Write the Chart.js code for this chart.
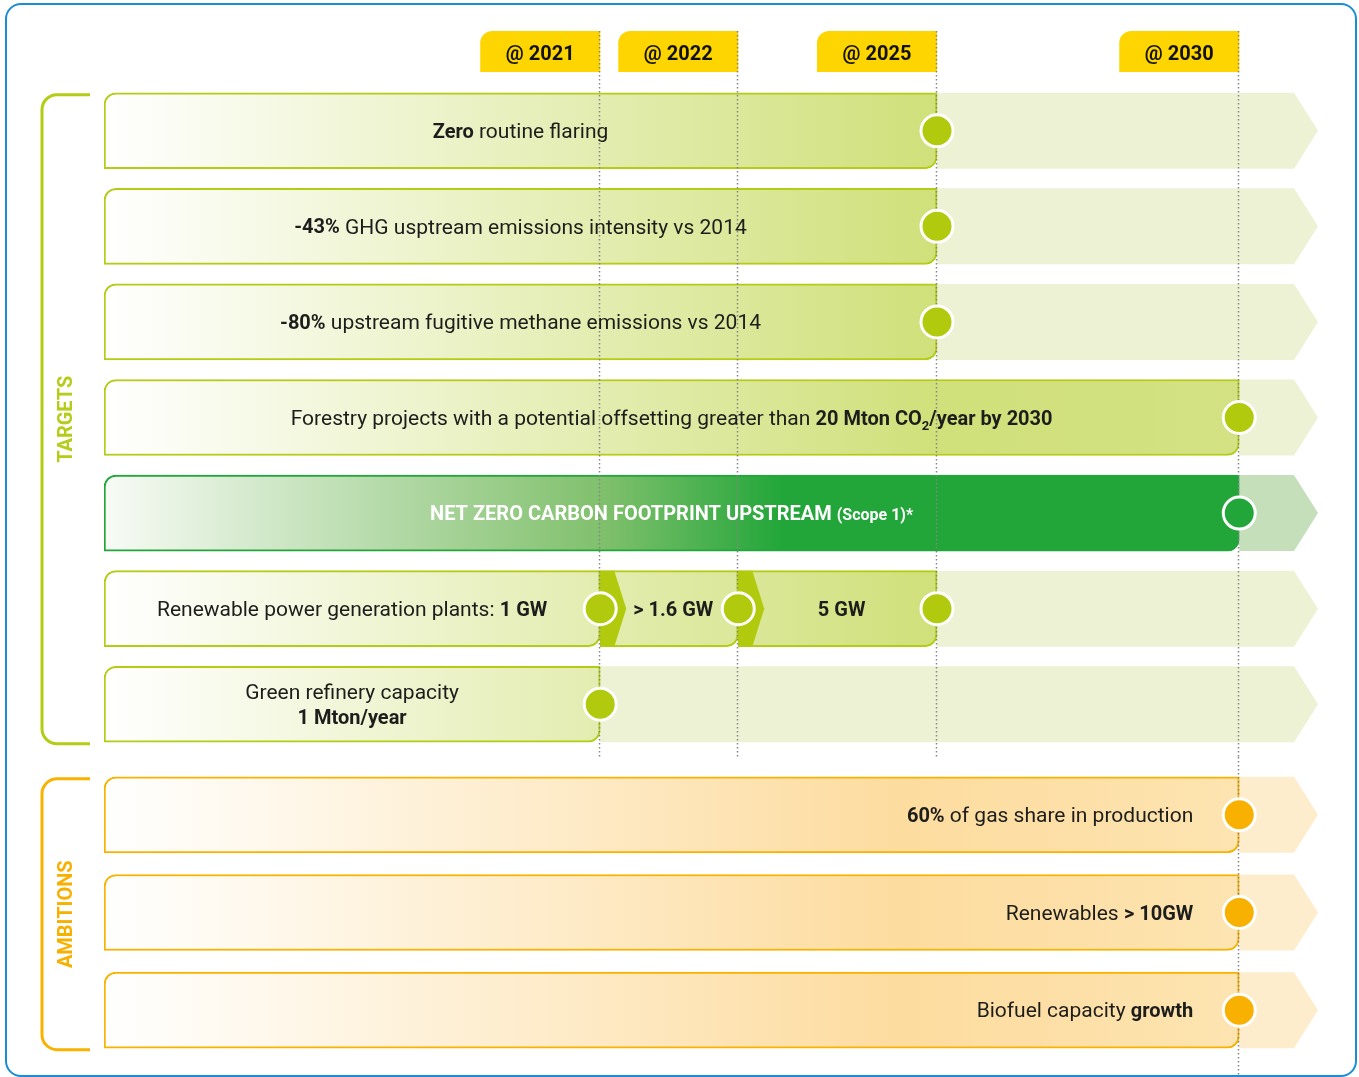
<!DOCTYPE html>
<html>
<head>
<meta charset="utf-8">
<script src="https://cdn.jsdelivr.net/npm/chart.js@4.4.1/dist/chart.umd.min.js"></script>
<style>
  html, body { margin: 0; padding: 0; background: #fff; }
  body { width: 1359px; height: 1077px; position: relative; overflow: hidden; }
  .frame { position: absolute; left: 5px; top: 3px; width: 1352px; height: 1074px; box-sizing: border-box;
           border: 2.5px solid #1b8dd6; border-radius: 16px; }
  canvas { position: absolute; left: 0; }
  #targets { top: 0; }
  #ambitions { top: 757px; }
</style>
</head>
<body>
<div class="frame"></div>
<canvas id="targets" width="1359" height="757"></canvas>
<canvas id="ambitions" width="1359" height="320"></canvas>
<script>
// Milestones on the timeline (position in timeline units)
const milestones = ['@ 2021', '@ 2022', '@ 2025', '@ 2030'];
const milestonePos = [4.17, 5.33, 7.0, 9.54];

// Targets: row text (**bold**, ~subscript~, ^small^) and the milestone each bar reaches
const targetRows = [
  '**Zero** routine flaring',
  '**-43%** GHG usptream emissions intensity vs 2014',
  '**-80%** upstream fugitive methane emissions vs 2014',
  'Forestry projects with a potential offsetting greater than **20 Mton CO~2~/year by 2030**',
  '**NET ZERO CARBON FOOTPRINT UPSTREAM ^(Scope 1)*^**',
  'Renewable power generation plants: **1 GW**',
  'Green refinery capacity\n**1 Mton/year**'
];
const targetEnd = ['@ 2025', '@ 2025', '@ 2025', '@ 2030', '@ 2030', '@ 2021', '@ 2021'];

// Renewable power row keeps going in steps
const stepRow = 'Renewable power generation plants: **1 GW**';
const stepFrom = ['@ 2021', '@ 2022'];
const stepTo = ['@ 2022', '@ 2025'];
const stepText = ['**> 1.6 GW**', '**5 GW**'];

// Ambitions
const ambitionRows = [
  '**60%** of gas share in production',
  'Renewables **> 10GW**',
  'Biofuel capacity **growth**'
];
const ambitionEnd = ['@ 2030', '@ 2030', '@ 2030'];

Chart.defaults.font.family = 'Roboto';
Chart.defaults.color = '#1d1d1b';

const pos = label => milestonePos[milestones.indexOf(label)];

const themes = {
  green:   { stops: [[0, '#ffffff'], [0.7, '#d0e07a'], [1, '#d4e285']], line: '#b3cc14', dot: '#b2ca0e', track: '#edf2d5', text: '#1d1d1b', label: '#b5cc18' },
  netZero: { stops: [[0, '#f8fbf6'], [0.42, '#80c06c'], [0.57, '#22a63a'], [1, '#22a63a']], line: '#22a63a', dot: '#22a63a', track: '#c5dfbb', text: '#ffffff' },
  orange:  { stops: [[0, '#ffffff'], [0.67, '#fddc9f'], [1, '#fde5b3']], line: '#f8b200', dot: '#f8b100', track: '#feedcc', text: '#1d1d1b', label: '#f7b000' }
};
const netZeroRow = targetRows[4];

function fill(chart, theme) {
  const a = chart.chartArea;
  if (!a) return theme.line;
  const g = chart.ctx.createLinearGradient(a.left, 0, a.right, 0);
  theme.stops.forEach(s => g.addColorStop(s[0], s[1]));
  return g;
}

// rich text: **bold**, ~sub~, ^small^
function parseRuns(str) {
  let bold = false, sub = false, small = false;
  const out = [];
  str.split(/(\*\*|~|\^)/).forEach(p => {
    if (p === '**') bold = !bold;
    else if (p === '~') sub = !sub;
    else if (p === '^') small = !small;
    else if (p) out.push({ t: p, bold, sub, small });
  });
  return out;
}
function runFont(r) {
  const size = r.sub ? 13 : r.small ? 16 : r.bold ? 20 : 21;
  return (r.bold ? 'bold ' : '') + size + 'px Roboto';
}
function drawRich(ctx, str, x, y, align, color) {
  const runs = parseRuns(str);
  let w = 0;
  runs.forEach(r => { ctx.font = runFont(r); r.w = ctx.measureText(r.t).width; w += r.w; });
  let cx = align === 'right' ? x - w : x - w / 2;
  ctx.fillStyle = color;
  ctx.textBaseline = 'middle';
  ctx.textAlign = 'left';
  runs.forEach(r => {
    ctx.font = runFont(r);
    ctx.fillText(r.t, cx, y + (r.sub ? 7 : r.small ? 1 : 0));
    cx += r.w;
  });
}

function buildChart(id, cfg) {
  const themeOf = row => row === netZeroRow ? themes.netZero : cfg.theme;
  const rowEnd = cfg.rows.map((r, i) =>
    Math.max(pos(cfg.ends[i]), ...cfg.steps.filter(s => s.row === r).map(s => pos(s.to))));

  const barStyle = {
    type: 'bar',
    backgroundColor: ctx => fill(ctx.chart, themeOf(cfg.rows[ctx.dataIndex])),
    borderColor: ctx => themeOf(cfg.rows[ctx.dataIndex]).line,
    borderWidth: 2,
    borderSkipped: false,
    barThickness: 76,
    grouped: false,
    order: 2
  };

  const datasets = [Object.assign({}, barStyle, {
    label: cfg.name,
    data: cfg.rows.map((r, i) => [0, pos(cfg.ends[i])]),
    texts: cfg.rows,
    borderRadius: { topLeft: 12, topRight: 0, bottomLeft: 0, bottomRight: 12 }
  })];

  cfg.steps.forEach(s => datasets.push(Object.assign({}, barStyle, {
    label: s.text,
    data: cfg.rows.map(r => r === s.row ? [pos(s.from), pos(s.to)] : null),
    texts: cfg.rows.map(r => r === s.row ? s.text : null),
    isStep: true,
    borderRadius: { topLeft: 0, topRight: 0, bottomLeft: 0, bottomRight: 12 }
  })));

  const points = cfg.rows.map((r, i) => ({ x: pos(cfg.ends[i]), y: r }));
  cfg.steps.forEach(s => points.push({ x: pos(s.to), y: s.row }));
  datasets.push({
    type: 'line',
    label: 'milestone',
    data: points,
    showLine: false,
    pointRadius: 16,
    pointBorderWidth: 3,
    pointBorderColor: '#ffffff',
    pointBackgroundColor: ctx => themeOf(ctx.raw ? ctx.raw.y : null).dot,
    order: 1
  });

  const timeline = {
    id: 'timeline',
    beforeDraw(chart) {
      if (!cfg.tabs) return;
      const ctx = chart.ctx, xs = chart.scales.x;
      ctx.save();
      ctx.fillStyle = '#ffd500';
      milestonePos.forEach(v => {
        const x = xs.getPixelForValue(v);
        const l = x - 120, t = 31, b = 72, r = 12;
        ctx.beginPath();
        ctx.moveTo(l, b);
        ctx.lineTo(l, t + r);
        ctx.arcTo(l, t, l + r, t, r);
        ctx.lineTo(x, t);
        ctx.lineTo(x, b);
        ctx.closePath();
        ctx.fill();
      });
      ctx.restore();
    },
    beforeDatasetsDraw(chart) {
      const ctx = chart.ctx, xs = chart.scales.x, ys = chart.scales.y;
      const right = xs.getPixelForValue(xs.max);
      ctx.save();
      cfg.rows.forEach((r, i) => {
        const y = ys.getPixelForValue(i), h = 38;
        const x0 = xs.getPixelForValue(rowEnd[i]);
        ctx.fillStyle = themeOf(r).track;
        ctx.beginPath();
        ctx.moveTo(x0, y - h);
        ctx.lineTo(right, y - h);
        ctx.lineTo(right + 24, y);
        ctx.lineTo(right, y + h);
        ctx.lineTo(x0, y + h);
        ctx.closePath();
        ctx.fill();
      });
      ctx.restore();
    },
    beforeDatasetDraw(chart, args) {
      if (args.meta.type !== 'line') return;
      const ctx = chart.ctx, xs = chart.scales.x;
      ctx.save();
      // chevrons where a step starts
      chart.data.datasets.forEach((ds, di) => {
        if (!ds.isStep) return;
        chart.getDatasetMeta(di).data.forEach((el, i) => {
          if (ds.data[i] == null) return;
          const t = el.y - el.height / 2, b = el.y + el.height / 2, x0 = el.base;
          ctx.fillStyle = themeOf(cfg.rows[i]).dot;
          ctx.beginPath();
          ctx.moveTo(x0, t);
          ctx.lineTo(x0 + 14, t);
          ctx.lineTo(x0 + 26, el.y);
          ctx.lineTo(x0 + 14, b);
          ctx.lineTo(x0, b);
          ctx.closePath();
          ctx.fill();
        });
      });
      // dotted milestone lines
      ctx.strokeStyle = '#858585';
      ctx.lineWidth = 1.5;
      ctx.setLineDash([1.5, 2.5]);
      cfg.lines.forEach(m => {
        const x = Math.round(xs.getPixelForValue(pos(m))) - 0.5;
        ctx.beginPath();
        ctx.moveTo(x, cfg.lineTop);
        ctx.lineTo(x, chart.height);
        ctx.stroke();
      });
      ctx.restore();
    },
    afterDatasetsDraw(chart) {
      const ctx = chart.ctx;
      ctx.save();
      chart.data.datasets.forEach((ds, di) => {
        if (!ds.texts) return;
        chart.getDatasetMeta(di).data.forEach((el, i) => {
          const text = ds.texts[i];
          if (!text || ds.data[i] == null) return;
          const lines = text.split('\n');
          const tx = cfg.align === 'right' ? el.x - 46 : (el.x + el.base) / 2 + (ds.isStep ? 4 : 0);
          lines.forEach((ln, k) => {
            const ty = el.y + 2 + (k - (lines.length - 1) / 2) * 25;
            drawRich(ctx, ln, tx, ty, cfg.align, themeOf(cfg.rows[i]).text);
          });
        });
      });
      ctx.restore();
    },
    afterDraw(chart) {
      const ctx = chart.ctx;
      const meta = chart.getDatasetMeta(0).data;
      const first = meta[0], last = meta[meta.length - 1];
      const top = first.y - first.height / 2 + 2;
      const bottom = last.y + last.height / 2 + 1.5;
      const x = 42, r = 15, end = 90;
      ctx.save();
      ctx.strokeStyle = cfg.theme.line;
      ctx.lineWidth = 3;
      ctx.beginPath();
      ctx.moveTo(end, top);
      ctx.lineTo(x + r, top);
      ctx.arcTo(x, top, x, top + r, r);
      ctx.lineTo(x, bottom - r);
      ctx.arcTo(x, bottom, x + r, bottom, r);
      ctx.lineTo(end, bottom);
      ctx.stroke();
      ctx.translate(67, (top + bottom) / 2);
      ctx.rotate(-Math.PI / 2);
      ctx.font = 'bold 20px Roboto';
      ctx.fillStyle = cfg.theme.label;
      ctx.textAlign = 'center';
      ctx.textBaseline = 'middle';
      ctx.fillText(cfg.name, 0, 0);
      ctx.restore();
    }
  };

  return new Chart(document.getElementById(id), {
    type: 'bar',
    data: { labels: cfg.rows, datasets },
    options: {
      indexAxis: 'y',
      responsive: false,
      maintainAspectRatio: false,
      animation: false,
      events: [],
      layout: { padding: cfg.padding, autoPadding: false },
      scales: {
        x: {
          type: 'linear',
          position: 'top',
          min: 0,
          max: 10,
          display: cfg.tabs,
          grid: { display: false, drawTicks: false },
          border: { display: false },
          afterBuildTicks: axis => { axis.ticks = milestonePos.map(v => ({ value: v })); },
          ticks: {
            autoSkip: false,
            maxRotation: 0,
            padding: 16,
            labelOffset: -60,
            color: '#111111',
            font: { size: 20, weight: 'bold' },
            callback: (v, i) => milestones[i]
          }
        },
        y: { type: 'category', display: false }
      },
      plugins: { legend: { display: false }, tooltip: { enabled: false } }
    },
    plugins: [timeline]
  });
}

buildChart('targets', {
  name: 'TARGETS',
  rows: targetRows,
  ends: targetEnd,
  steps: stepFrom.map((f, k) => ({ row: stepRow, from: f, to: stepTo[k], text: stepText[k] })),
  theme: themes.green,
  align: 'center',
  tabs: true,
  lines: milestones,
  lineTop: 31,
  padding: { top: 27, left: 104, right: 65, bottom: 5 }
});

buildChart('ambitions', {
  name: 'AMBITIONS',
  rows: ambitionRows,
  ends: ambitionEnd,
  steps: [],
  theme: themes.orange,
  align: 'right',
  tabs: false,
  lines: ['@ 2030'],
  lineTop: 0,
  padding: { top: 9, left: 104, right: 65, bottom: 18 }
});
</script>
</body>
</html>
